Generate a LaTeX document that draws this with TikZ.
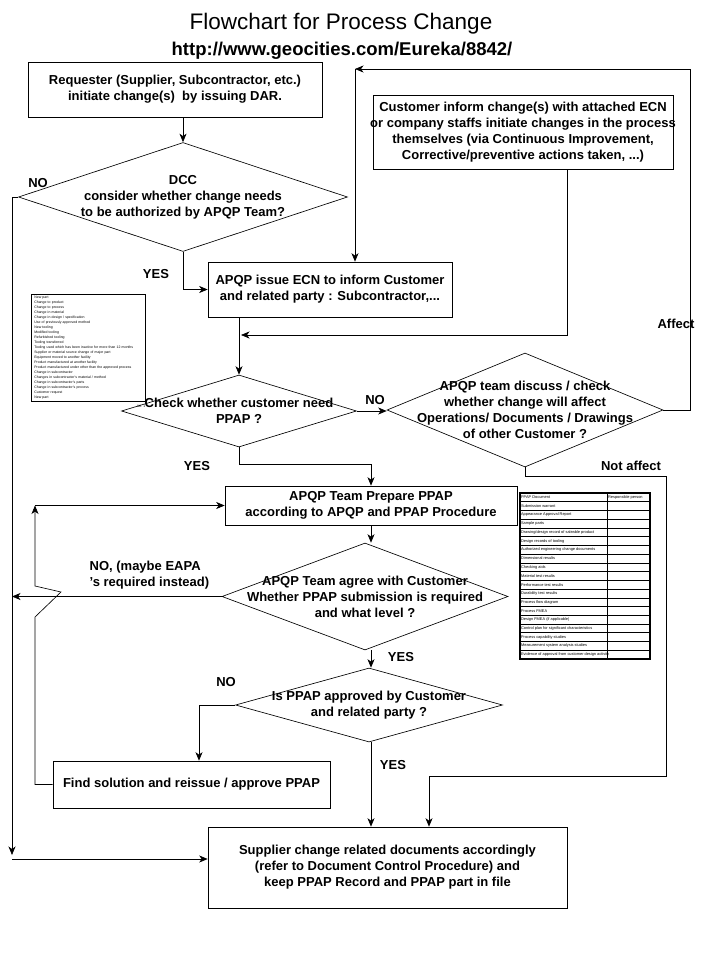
\documentclass[tikz,border=0pt]{standalone}
\usepackage{fontspec}
\setmainfont{Liberation Sans}
\usepackage{tikz}
\usetikzlibrary{shapes.geometric,arrows.meta,positioning}

\newcommand{\flowfont}{\bfseries\fontsize{13}{16}\selectfont}
\newcommand{\tinylist}{\fontsize{3.5}{4.97}\selectfont}

\begin{document}
\begin{tikzpicture}[
      x=1pt, y=-1pt, line width=0.65pt,
      >={Stealth[length=8.5pt,width=7pt,inset=2.5pt]},
      txt/.style={align=center, font=\flowfont},
      boxtext/.style={label={[txt]center:{#1}}},
      procbox/.style={draw, rectangle, inner sep=0pt},
      decision/.style={draw, diamond, inner sep=0pt},
      lbl/.style={font=\flowfont},
      celltext/.style={anchor=west, inner sep=0.8pt, font=\fontsize{3.9}{4.5}\selectfont}
    ]
    \useasboundingbox (0,0) rectangle (711,977);

    % heading
    \node[font=\fontsize{22.5}{24}\selectfont] (title) at (341,24) {Flowchart for Process Change};
    \node[font=\bfseries\fontsize{18.5}{20}\selectfont] (url) at (342,51) {http://www.geocities.com/Eureka/8842/};

    % boxes and decisions
    \node[procbox, minimum width=294pt, minimum height=55pt,
      boxtext={Requester (Supplier, Subcontractor, etc.)\\initiate change(s)~ by issuing DAR.}] (reqbox) at (175,89.5) {};
    \node[decision, minimum width=329pt, minimum height=109pt,
      boxtext={DCC\\consider whether change needs\\to be authorized by APQP Team?}] (dcc) at (183,197) {};
    \node[procbox, minimum width=300pt, minimum height=74pt,
      boxtext={Customer inform change(s) with attached ECN\\or company staffs initiate changes in the process\\themselves (via Continuous Improvement,\\Corrective/preventive actions taken, ...)}] (cusbox) at (523,132) {};
    \node[procbox, minimum width=244pt, minimum height=55pt,
      boxtext={APQP issue ECN to inform Customer\\and related party : Subcontractor,...}] (ecnbox) at (330,289.5) {};
    \node[decision, minimum width=235pt, minimum height=72pt,
      boxtext={Check whether customer need\\PPAP ?}] (needppap) at (239,411) {};
    \node[decision, minimum width=276pt, minimum height=114pt,
      boxtext={APQP team discuss / check\\whether change will affect\\Operations/ Documents / Drawings\\of other Customer ?}] (affect) at (525,410) {};
    \node[procbox, minimum width=292pt, minimum height=39pt,
      boxtext={APQP Team Prepare PPAP\\according to APQP and PPAP Procedure}] (prepbox) at (371,505.5) {};
    \node[decision, minimum width=286pt, minimum height=107pt,
      boxtext={APQP Team agree with Customer\\Whether PPAP submission is required\\and what level ?}] (agree) at (365,596.5) {};
    \node[decision, minimum width=267pt, minimum height=74pt,
      boxtext={Is PPAP approved by Customer\\and related party ?}] (approved) at (369,705) {};
    \node[procbox, minimum width=277pt, minimum height=47pt,
      boxtext={Find solution and reissue / approve PPAP}] (solbox) at (191.5,784.5) {};
    \node[procbox, minimum width=359pt, minimum height=81pt,
      boxtext={Supplier change related documents accordingly\\(refer to Document Control Procedure) and\\keep PPAP Record and PPAP part in file}] (docbox) at (387.5,867.5) {};

    % list of changes
    \node[draw, anchor=north west, text width=108pt, inner xsep=3pt, inner ysep=2pt,
      minimum height=107pt, align=left, font=\tinylist] (changelist) at (31,294) {%
      New part\\Change to product\\Change to process\\Change in material\\
      Change in design / specification\\Use of previously approved method\\
      New tooling\\Modified tooling\\Refurbished tooling\\Tooling transferred\\
      Tooling used which has been inactive for more than 12 months\\
      Supplier or material source change of major part\\
      Equipment moved to another facility\\
      Product manufactured at another facility\\
      Product manufactured under other than the approved process\\
      Change in subcontractor\\Changes in subcontractor's material / method\\
      Change in subcontractor's parts\\Change in subcontractor's process\\
      Customer request\\New part};
    \node[font=\tinylist] (attnote) at (141,406) {Att. 1};

    % PPAP document table
    \draw[line width=1.3pt] (520,493) rectangle (650,659);
    \draw (607,493) -- (607,659);
    \foreach \r in {1,...,18}
      \draw (520,{493+\r*8.737}) -- (650,{493+\r*8.737});
    \foreach \doc [count=\r] in {PPAP Document, Submission warrant, Appearance Approval Report,
        Sample parts, Drawing/design record of saleable product, Design records of tooling,
        Authorized engineering change documents, Dimensional results, Checking aids,
        Material test results, Performance test results, Durability test results,
        Process flow diagram, Process FMEA, Design FMEA (if applicable),
        Control plan for significant characteristics, Process capability studies,
        Measurement system analysis studies, Evidence of approval from customer design activity}
      \node[celltext] (doc\r) at (520,{493+(\r-0.5)*8.737}) {\doc};
    \node[celltext] (resphead) at (607,{493+0.5*8.737}) {Responsible person};

    % corner points of the long connectors
    \coordinate (nocorner) at (12,859);
    \coordinate (fbright) at (690,69);
    \coordinate (fbcorner) at (355,69);
    \coordinate (cusjoin) at (241,335);
    \coordinate (naright) at (666,776);
    \coordinate (loopcorner) at (35,505.5);

    % connectors
    \draw[->] (reqbox.south -| dcc.north) -- (dcc.north);
    \draw[->] (dcc.west) -| ([yshift=4pt]nocorner);
    \draw[->] (nocorner) -- (nocorner -| docbox.west);
    \draw[->] (dcc.south) |- (ecnbox.west);
    \draw[->] (affect.east) -| (fbright) -- (fbcorner);
    \draw[->] (fbcorner) -- (fbcorner |- ecnbox.north);
    \draw[->] ([xshift=-106pt]cusbox.south east) |- (cusjoin);
    \draw[->] (ecnbox.south -| needppap.north) -- (needppap.north);
    \draw[->] (needppap.east) -- (needppap.east -| affect.west);
    \draw[->] (needppap.south) -- ++(0,17) -| (prepbox.north);
    \draw[->] (affect.south) -- ++(0,9) -| (naright) -| ([xshift=41.5pt]docbox.north);
    \draw[->] (prepbox.south) -- (prepbox.south |- agree.north);
    \draw[->] (agree.west) -- (agree.west -| nocorner);
    \draw[->] (agree.south -| prepbox.south) -- (prepbox.south |- approved.north);
    \draw[->] (approved.west) -| ([xshift=7.5pt]solbox.north);
    \draw[->] (approved.south -| prepbox.south) -- (prepbox.south |- docbox.north);
    \draw[->] (solbox.west) -| (35,617) -- (61,592) -- (35,586) -- (loopcorner);
    \draw[->] (loopcorner) -- (prepbox.west);

    % branch labels
    \node[lbl] (nodcc) at (38,183) {NO};
    \node[lbl] (yesdcc) at (156,274) {YES};
    \node[lbl] (noppap) at (375,400) {NO};
    \node[lbl] (yesppap) at (197,466) {YES};
    \node[lbl] (affectlbl) at (676,324) {Affect};
    \node[lbl] (notaffect) at (631,466) {Not affect};
    \node[lbl, align=left, anchor=west] (noagree) at (86,575) {NO, (maybe EAPA\\'s required instead)};
    \node[lbl] (yesagree) at (401,657) {YES};
    \node[lbl] (noappr) at (226,682) {NO};
    \node[lbl] (yesappr) at (393,765) {YES};
  \end{tikzpicture}
\end{document}
